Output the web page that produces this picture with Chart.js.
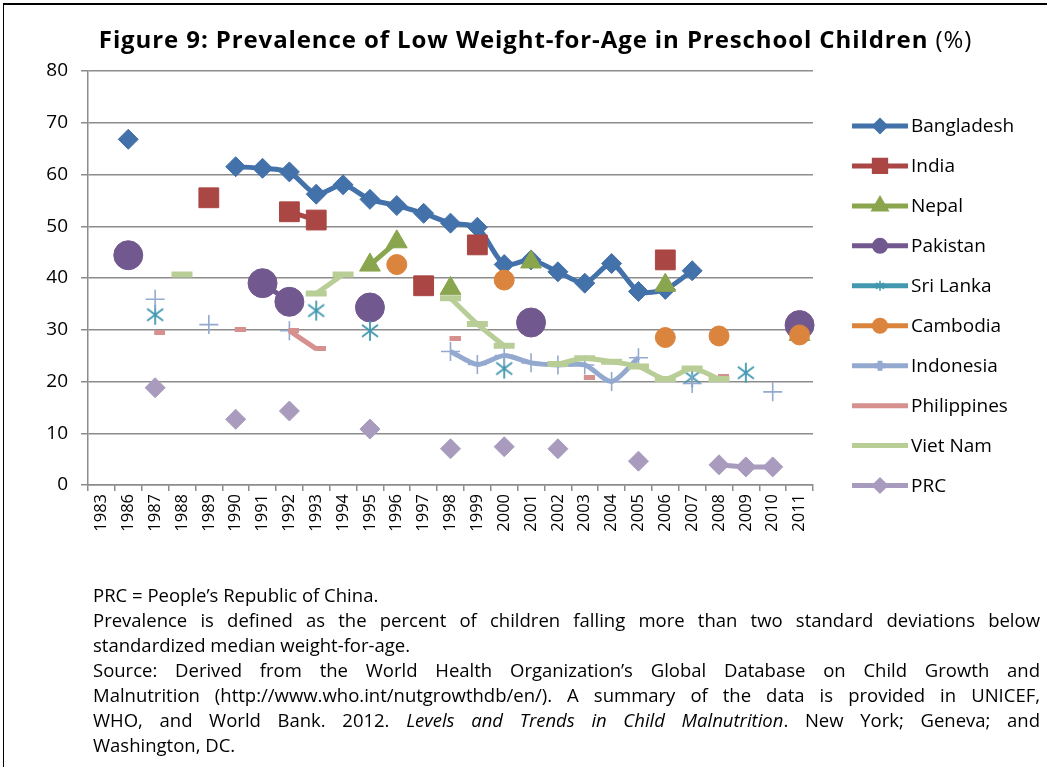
<!DOCTYPE html>
<html><head><meta charset="utf-8">
<script src="https://cdn.jsdelivr.net/npm/chart.js@4.4.1/dist/chart.umd.min.js"></script>
<style>
html,body{margin:0;padding:0;background:#fff;}
body{width:1047px;height:767px;position:relative;overflow:hidden;font-family:"Open Sans",sans-serif;}
#frame{position:absolute;left:3px;top:3px;width:1060px;height:800px;border-left:1.5px solid #000;border-top:2.5px solid #000;}
#title{position:absolute;top:22px;left:0;width:1071px;text-align:center;font-size:24px;letter-spacing:0.9px;font-weight:bold;color:#000;white-space:nowrap;}
#title span{font-weight:normal;}
#wrap{position:absolute;left:0;top:0;width:1047px;height:767px;}
#notes{position:absolute;left:93px;top:582px;width:947px;font-size:18.5px;line-height:25px;color:#000;}
#notes div{white-space:nowrap;}
#notes span.l{display:inline-block;white-space:nowrap;}
</style></head>
<body>
<div id="frame"></div>
<div id="wrap"><canvas id="c"></canvas></div>
<div id="title">Figure 9: Prevalence of Low Weight-for-Age in Preschool Children <span>(%)</span></div>
<div id="notes">
<div><span>PRC = People’s Republic of China.</span></div>
<div class="j"><span class="l">Prevalence is defined as the percent of children falling more than two standard deviations below</span></div>
<div><span>standardized median weight-for-age.</span></div>
<div class="j"><span class="l">Source: Derived from the World Health Organization’s Global Database on Child Growth and</span></div>
<div class="j"><span class="l">Malnutrition (http://www.who.int/nutgrowthdb/en/). A summary of the data is provided in UNICEF,</span></div>
<div class="j"><span class="l">WHO, and World Bank. 2012. <i>Levels and Trends in Child Malnutrition</i>. New York; Geneva; and</span></div>
<div><span>Washington, DC.</span></div>
</div>
<script>
// justify each footnote line by word spacing
document.querySelectorAll('#notes .j span.l').forEach(sp=>{
  const w = sp.getBoundingClientRect().width;
  const spaces = (sp.textContent.match(/ /g)||[]).length;
  sp.style.wordSpacing = ((947 - w)/spaces) + 'px';
});

const years = ['1983','1986','1987','1988','1989','1990','1991','1992','1993','1994','1995','1996','1997','1998','1999','2000','2001','2002','2003','2004','2005','2006','2007','2008','2009','2010','2011'];
const yTicks = [0,10,20,30,40,50,60,70,80];
const seriesNames = ['Bangladesh','India','Nepal','Pakistan','Sri Lanka','Cambodia','Indonesia','Philippines','Viet Nam','PRC'];
const _ = null;
//                1983 1986 1987 1988 1989 1990 1991 1992 1993 1994 1995 1996 1997 1998 1999 2000 2001 2002 2003 2004 2005 2006 2007 2008 2009 2010 2011
const bangladesh  = [_, 66.8, _,   _,   _,   61.5,61.2,60.5,56.2,58.0,55.2,54.0,52.5,50.6,49.8,42.6,43.5,41.2,39.0,42.8,37.4,37.8,41.4,_,   _,   _,   _];
const india       = [_, _,    _,   _,   55.5,_,   _,   52.8,51.2,_,   _,   _,   38.5,_,   46.4,_,   _,   _,   _,   _,   _,   43.5,_,   _,   _,   _,   _];
const nepal       = [_, _,    _,   _,   _,   _,   _,   _,   _,   _,   42.5,47.0,_,   38.0,_,   _,   43.1,_,   _,   _,   _,   38.6,_,   _,   _,   _,   29.1];
const pakistan    = [_, 44.4, _,   _,   _,   _,   39.0,35.4,_,   _,   34.3,_,   _,   _,   _,   _,   31.4,_,   _,   _,   _,   _,   _,   _,   _,   _,   30.9];
const sriLanka    = [_, _,    32.9,_,   _,   _,   _,   _,   33.7,_,   29.8,_,   _,   _,   _,   22.5,_,   _,   _,   _,   _,   _,   20.8,_,   21.7,_,   _];
const cambodia    = [_, _,    _,   _,   _,   _,   _,   _,   _,   _,   _,   42.6,_,   _,   _,   39.6,_,   _,   _,   _,   _,   28.5,_,   28.8,_,   _,   29.0];
const indonesia   = [_, _,    35.9,_,   31.0,_,   _,   29.8,_,   _,   _,   _,   _,   25.8,23.3,25.0,23.6,23.2,23.2,20.0,24.6,_,   19.6,_,   _,   18.0,_];
const philippines = [_, _,    29.4,_,   _,   30.0,_,   29.8,26.3,_,   _,   _,   _,   28.3,_,   _,   _,   _,   20.7,_,   _,   _,   _,   21.0,_,   _,   _];
const vietNam     = [_, _,    _,   40.7,_,   _,   _,   _,   37.0,40.7,_,   _,   _,   36.1,31.1,26.9,_,   23.4,24.5,23.8,22.9,20.5,22.5,20.5,_,   _,   _];
const prc         = [_, _,    18.8,_,   _,   12.7,_,   14.3,_,   _,   10.8,_,   _,   7.0, _,   7.4, _,   7.0, _,   _,   4.6, _,   _,   3.9, 3.5, 3.5, _];
const seriesData = [bangladesh,india,nepal,pakistan,sriLanka,cambodia,indonesia,philippines,vietNam,prc];

// custom asterisk marker (Excel style: X plus vertical bar)
function makeAsterisk(size, color, lw){
  const cv=document.createElement('canvas'); cv.width=size; cv.height=size;
  const g=cv.getContext('2d'); g.strokeStyle=color; g.lineWidth=lw;
  const c=size/2, r=size/2-1, d=r*0.8;
  g.beginPath();
  g.moveTo(c,c-r); g.lineTo(c,c+r);
  g.moveTo(c-d,c-d*0.75); g.lineTo(c+d,c+d*0.75);
  g.moveTo(c-d,c+d*0.75); g.lineTo(c+d,c-d*0.75);
  g.stroke();
  return cv;
}
// Excel-style short dash marker (drawn slightly right of the point)
function makeDash(color){
  const cv=document.createElement('canvas'); cv.width=20; cv.height=5;
  const g=cv.getContext('2d'); g.fillStyle=color; g.fillRect(9,0,11,5);
  return cv;
}
const starImg = makeAsterisk(22,'#4198AF',1.8);
const starImgSmall = makeAsterisk(12,'#4198AF',1.5);
const dashImg = makeDash('#D6918F');

const styles = [
  {color:'#4371AA', line:'#4371AA', ps:'rectRot', r:10, bw:1, lg:{ps:'rectRot', r:5}},
  {color:'#AA4643', line:'#AA4643', ps:'rect', r:14, bw:1, lg:{ps:'rect', r:8}},
  {color:'#89A54E', line:'#89A54E', ps:'triangle', r:12, bw:1, lg:{ps:'triangle', r:6}},
  {color:'#71588F', line:'#71588F', ps:'circle', r:14.5, bw:1, lg:{ps:'circle', r:5.5}},
  {color:'#4198AF', line:'#4198AF', ps:starImg, r:10, bw:1, lg:{img:starImgSmall}},
  {color:'#DB843D', line:'#DB843D', ps:'circle', r:10, bw:1, lg:{ps:'circle', r:5.5}},
  {color:'#93A9CF', line:'#93A9CF', ps:'cross', r:9.5, bw:1.6, lg:{ps:'cross', r:5}},
  {color:'#D6918F', line:'#D6918F', ps:dashImg, r:6, bw:1, lg:null},
  {color:'#B9CD96', line:'#B9CD96', ps:'line', r:10.5, bw:6, lg:null},
  {color:'#A99BBD', line:'#A99BBD', ps:'rectRot', r:10, bw:1, lg:{ps:'rectRot', r:5}}
];

const datasets = seriesNames.map((n,i)=>({
  label:n,
  data:seriesData[i],
  borderColor:styles[i].line,
  backgroundColor:styles[i].color,
  borderWidth:5,
  pointStyle:styles[i].ps,
  pointRadius:styles[i].r,
  pointHoverRadius:styles[i].r,
  pointBackgroundColor:styles[i].color,
  pointBorderColor:styles[i].color,
  pointBorderWidth:styles[i].bw,
  tension:0.25,
  spanGaps:false,
  order:seriesNames.length-i
}));

const legendPlugin = {
  id:'customLegend',
  afterDraw(chart){
    const ctx=chart.ctx;
    ctx.save();
    datasets.forEach((ds,i)=>{
      const y=126+i*39.95;
      const st=styles[i];
      ctx.strokeStyle=st.line; ctx.lineWidth=5; ctx.lineCap='butt';
      ctx.beginPath(); ctx.moveTo(852,y); ctx.lineTo(908,y); ctx.stroke();
      if(st.lg){
        if(st.lg.img){ ctx.drawImage(st.lg.img,880-6,y-6); }
        else{
          ctx.fillStyle=st.color; ctx.strokeStyle=st.color;
          Chart.helpers.drawPoint(ctx,{pointStyle:st.lg.ps,radius:st.lg.r,rotation:0,borderWidth:st.lg.ps==='cross'?1.6:1},880,y);
        }
      }
      ctx.fillStyle='#000'; ctx.font='19px "Open Sans"'; ctx.textBaseline='middle'; ctx.textAlign='left';
      ctx.fillText(ds.label,911,y+1);
    });
    ctx.restore();
  }
};

new Chart(document.getElementById('c'),{
  type:'line',
  data:{labels:years,datasets:datasets},
  options:{
    responsive:true, maintainAspectRatio:false, animation:false,
    layout:{padding:{left:0,right:234,top:71,bottom:202}},
    plugins:{legend:{display:false},tooltip:{enabled:false},title:{display:false}},
    scales:{
      x:{
        offset:true,
        grid:{offset:true,drawOnChartArea:false,drawTicks:true,tickLength:6,color:'#8C8C8C',lineWidth:1.5},
        border:{display:true,color:'#8C8C8C',width:1.5},
        ticks:{autoSkip:false,maxRotation:90,minRotation:90,padding:3,color:'#000',font:{family:'"Open Sans"',size:16.5}},
        afterFit(s){ s.height=80; }
      },
      y:{
        min:0,max:80,
        afterBuildTicks(s){ s.ticks = yTicks.map(v=>({value:v})); },
        grid:{color:'#8C8C8C',lineWidth:1.5,drawTicks:true,tickLength:7},
        border:{display:true,color:'#8C8C8C',width:1.5},
        ticks:{padding:13,color:'#000',font:{family:'"Open Sans"',size:19}},
        afterFit(s){ s.width=88; }
      }
    }
  },
  plugins:[legendPlugin]
});
</script>
</body></html>
